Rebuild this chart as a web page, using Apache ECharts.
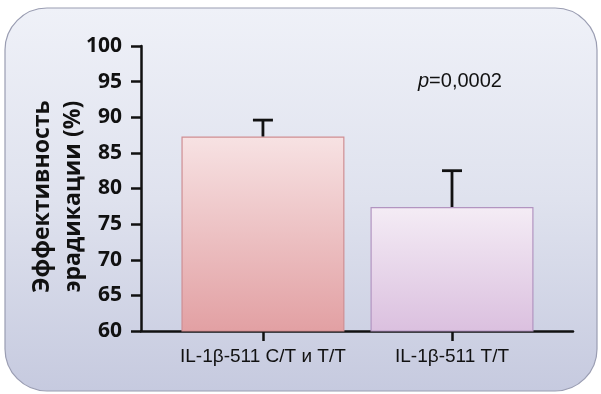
<!DOCTYPE html>
<html><head><meta charset="utf-8">
<script src="https://cdn.jsdelivr.net/npm/echarts@6/dist/echarts.min.js"></script>
<style>html,body{margin:0;padding:0;background:#fff}#c{width:601px;height:394px}</style>
</head><body><div id="c"></div>
<script>
// ---- data ----
const categories = ['IL-1β-511 C/T и T/T', 'IL-1β-511 T/T'];
const categoryIndex = [0, 1];
const values = [87.3, 77.4];
const errorTops = [89.6, 82.5];
const yMin = 60, yMax = 100, yStep = 5;
const yTitle = 'Эффективность\nэрадикации (%)';
const pLabel = '=0,0002';

const barStyles = [
  {top: '#f7e2e3', bottom: '#e2a0a3', border: '#cf8e92'},
  {top: '#f4ecf5', bottom: '#dbc0df', border: '#b294c0'}
];
const sans = '"Liberation Sans", Arial, Helvetica, sans-serif';
const boldFont = '"Open Sans", sans-serif';

const chart = echarts.init(document.getElementById('c'), null, {renderer: 'canvas'});
const barData = categoryIndex.map((x, i) => ({
  value: [x, values[i]],
  itemStyle: {
    color: new echarts.graphic.LinearGradient(0, 0, 0, 1, [
      {offset: 0, color: barStyles[i].top},
      {offset: 1, color: barStyles[i].bottom}
    ]),
    borderColor: barStyles[i].border,
    borderWidth: 1.2
  }
}));
const errData = categoryIndex.map((x, i) => [x, values[i], errorTops[i]]);

chart.setOption({
  animation: false,
  graphic: [{
    type: 'rect', z: -10, silent: true,
    shape: {x: 5, y: 8, width: 592, height: 383, r: 42},
    style: {
      fill: new echarts.graphic.LinearGradient(0, 0, 0, 1, [
        {offset: 0, color: '#eff1f8'},
        {offset: 0.5, color: '#dfe2ee'},
        {offset: 1, color: '#c6cadf'}
      ]),
      stroke: '#9a9db2', lineWidth: 1.2
    }
  }, {
    type: 'text', left: 418, top: 71, silent: true,
    style: {
      text: '{i|p}' + pLabel,
      fill: '#111',
      font: '20px ' + sans,
      rich: {i: {fontStyle: 'italic', fontSize: 20, fontFamily: sans, fill: '#111'}}
    }
  }],
  grid: {left: 141, right: 28, top: 46, bottom: 63, containLabel: false},
  xAxis: {
    type: 'value', min: -0.645, max: 1.64,
    splitLine: {show: false},
    axisLine: {show: true, onZero: false, lineStyle: {color: '#111', width: 2.5}},
    axisTick: {show: true, customValues: categoryIndex, length: 10, lineStyle: {color: '#111', width: 2.5}},
    axisLabel: {
      customValues: categoryIndex, margin: 16,
      formatter: v => categories[Math.round(v)] || '',
      color: '#111', fontSize: 19, fontFamily: sans
    }
  },
  yAxis: {
    type: 'value', min: yMin, max: yMax, interval: yStep,
    splitLine: {show: false},
    axisLine: {show: true, onZero: false, lineStyle: {color: '#111', width: 2.5}},
    axisTick: {show: true, length: 10, lineStyle: {color: '#111', width: 2.5}},
    axisLabel: {margin: 19, color: '#111', fontSize: 21, fontWeight: 'bold', fontFamily: boldFont},
    name: yTitle, nameLocation: 'middle', nameRotate: 90, nameGap: 52, nameMoveOverlap: false,
    nameTextStyle: {color: '#111', fontSize: 23, fontWeight: 'bold', fontFamily: boldFont, lineHeight: 31, padding: [0, 16, 0, 0]}
  },
  series: [{
    type: 'bar', data: barData, barWidth: 163, z: 2
  }, {
    type: 'custom', z: 3, data: errData,
    renderItem: function (params, api) {
      const x = api.value(0);
      const base = api.coord([x, api.value(1)]);
      const top = api.coord([x, api.value(2)]);
      const hw = 10;
      const st = {stroke: '#111', lineWidth: 2.8};
      return {type: 'group', children: [
        {type: 'line', shape: {x1: base[0], y1: base[1], x2: top[0], y2: top[1]}, style: st},
        {type: 'line', shape: {x1: top[0] - hw, y1: top[1], x2: top[0] + hw, y2: top[1]}, style: st}
      ]};
    }
  }]
});
</script>
</body></html>
